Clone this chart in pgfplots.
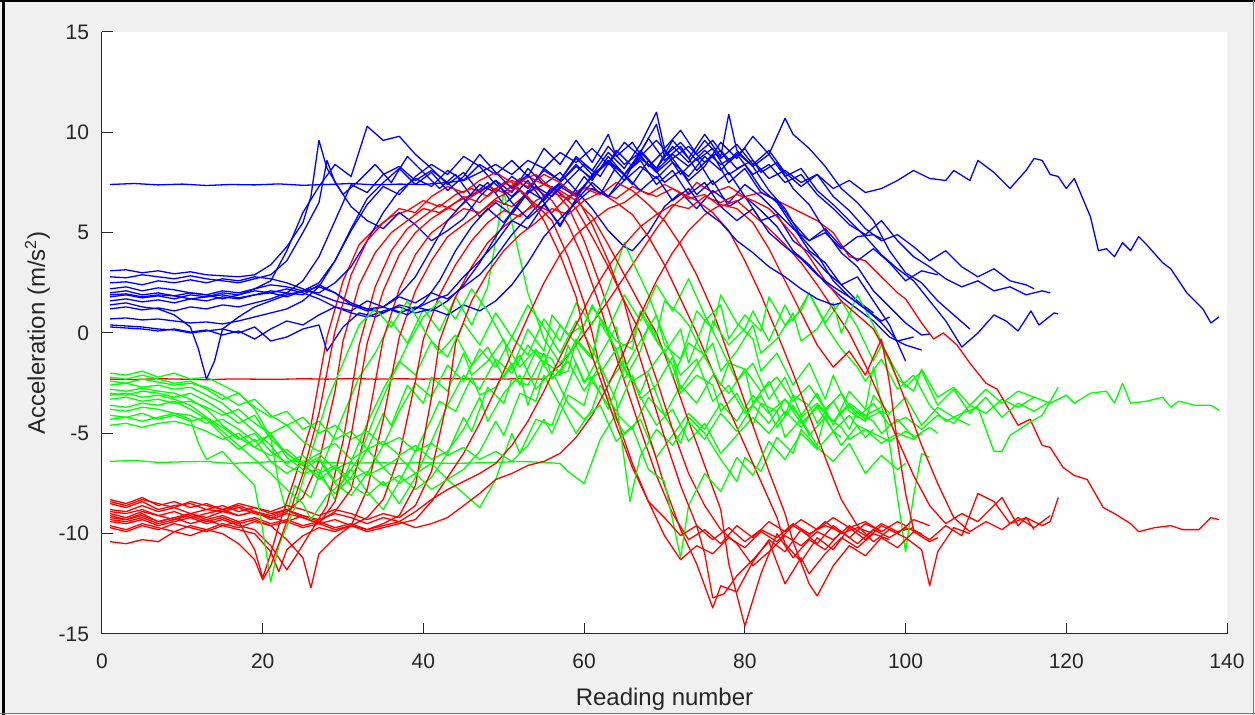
\documentclass[border=0pt]{standalone}
\usepackage{pgfplots}
\pgfplotsset{compat=1.18}
\usepackage{fontspec}
\setmainfont{Liberation Sans}
\definecolor{tickgray}{RGB}{38,38,38}
\definecolor{figbg}{RGB}{240,240,240}
\definecolor{edgegray}{RGB}{120,120,120}
\definecolor{accx}{RGB}{0,0,255}
\definecolor{accy}{RGB}{0,255,0}
\definecolor{accz}{RGB}{255,0,0}
\pgfplotsset{
  ax/.style={accx, line width=0.65pt, line join=round, mark=none},
  ay/.style={accy, line width=0.65pt, line join=round, mark=none},
  az/.style={accz, line width=0.65pt, line join=round, mark=none},
}
\begin{document}
\begin{tikzpicture}[x=1pt,y=1pt]
% figure window (0.5pt per screen pixel)
\fill[figbg] (-51,-40.5) rectangle (576.5,317);
\fill[black] (-49.75,-40.5) rectangle (-48.25,317);
\fill[black] (-51,315.75) rectangle (576.5,317);
\fill[edgegray] (575.5,-40.5) rectangle (576,317);
\fill[edgegray] (-51,-40) rectangle (576.5,-39.5);
\path[use as bounding box] (-51,-40.5) rectangle (576.5,317);
\begin{axis}[
  at={(0,0)}, anchor=south west,
  scale only axis, width=562.5pt, height=301pt,
  xmin=0, xmax=140, ymin=-15, ymax=15,
  xtick={0,20,...,140}, ytick={-15,-10,...,15},
  axis lines*=left,
  axis line style={tickgray, line width=0.5pt},
  tick align=inside, major tick length=5.5pt,
  tick style={tickgray, line width=0.5pt},
  axis background/.style={fill=white},
  /pgf/number format/assume math mode=true,
  ticklabel style={font=\fontsize{10.5}{12}\selectfont, text=tickgray},
  xticklabel style={anchor=base, yshift=-17.5pt},
  yticklabel style={anchor=east, inner sep=0pt, xshift=-6.25pt},
  xlabel={Reading number},
  ylabel={Acceleration (m/s\textsuperscript{2})},
  label style={font=\fontsize{12}{14}\selectfont, text=tickgray},
  xlabel style={at={(axis description cs:0.5,0)}, anchor=base, yshift=-36pt},
  ylabel style={at={(axis description cs:-0.0507,0.5)}, anchor=base, rotate=0},
]
% ---------- recording 1 (139 readings, tilted start) ----------
\addplot[ax] coordinates {(1,7.4)(4,7.45)(7,7.38)(10,7.42)(13,7.35)(16,7.4)(19,7.38)(22,7.43)(25,7.36)(28,7.4)(31,7.45)(34,7.38)(37,7.42)(40,7.4)(43,7.5)(45,7.6)(47,8.0)(49,8.4)(51,7.9)(53,8.6)(55,8.2)(57,9.0)(59,8.5)(61,9.2)(63,8.4)(65,9.5)(67,8.8)(69,9.6)(71,8.7)(73,9.3)(75,8.5)(77,9.1)(79,8.2)(81,8.6)(83,7.7)(85,8.1)(87,7.5)(89,7.9)(91,7.2)(93,7.6)(95,7.0)(97,7.2)(99,7.6)(101,8.1)(103,7.7)(105,7.6)(106,8.1)(108,7.6)(109,8.6)(111,8.0)(113,7.2)(115,8.1)(116,8.7)(117,8.6)(118,7.9)(119,7.8)(120,7.2)(121,7.7)(123,5.8)(124,4.1)(125,4.2)(126,3.8)(127,4.5)(128,4.1)(129,4.8)(130,4.4)(132,3.5)(133,3.2)(135,2.0)(137,1.2)(138,0.5)(139,0.8)};
\addplot[ay] coordinates {(1,-6.4)(4,-6.35)(7,-6.45)(10,-6.42)(13,-6.4)(16,-6.5)(19,-6.45)(22,-6.4)(25,-6.38)(28,-6.45)(31,-6.5)(34,-6.45)(37,-6.5)(40,-6.45)(43,-6.5)(46,-6.48)(49,-6.45)(52,-6.4)(55,-6.45)(57,-6.5)(58,-6.9)(60,-7.5)(62,-5.3)(64,-4.0)(66,-4.8)(68,-3.2)(70,-4.1)(72,-2.6)(74,-3.5)(76,-2.1)(78,-3.0)(80,-1.8)(82,-2.9)(84,-2.2)(86,-3.4)(88,-2.6)(90,-3.8)(92,-3.0)(94,-4.2)(96,-3.5)(98,-4.6)(100,-4.2)(102,-4.8)(104,-4.1)(106,-4.5)(108,-3.6)(110,-4.0)(112,-3.3)(114,-3.7)(116,-3.2)(118,-3.5)(120,-3.1)(121,-3.5)(123,-3.0)(125,-2.9)(126,-3.5)(127,-2.5)(128,-3.5)(130,-3.4)(132,-3.2)(133,-3.7)(134,-3.4)(136,-3.6)(138,-3.6)(139,-3.85)};
\addplot[az] coordinates {(1,-2.3)(4,-2.32)(7,-2.28)(10,-2.3)(13,-2.33)(16,-2.29)(19,-2.3)(22,-2.31)(25,-2.28)(28,-2.3)(31,-2.27)(34,-2.3)(37,-2.28)(40,-2.3)(43,-2.27)(46,-2.29)(49,-2.3)(52,-2.28)(55,-2.3)(57,-1.6)(59,-0.6)(61,0.5)(63,1.6)(65,2.8)(67,4.0)(69,5.2)(71,6.3)(73,7.0)(74,7.5)(76,7.0)(78,7.3)(80,6.8)(82,7.0)(84,6.6)(86,6.2)(88,5.8)(89,5.6)(91,5.0)(93,3.8)(95,3.6)(97,2.8)(99,2.0)(100,1.7)(102,0.5)(103.5,-0.3)(104.7,0.0)(106.4,-0.6)(108,-1.5)(110,-2.5)(111.4,-2.8)(113,-3.9)(114,-4.6)(115.5,-4.3)(117,-5.6)(118,-5.7)(119.6,-6.7)(121,-7.1)(122.6,-7.3)(124.6,-8.7)(126,-9.0)(128,-9.5)(129,-9.9)(131,-9.7)(133,-9.6)(134.5,-9.8)(136.5,-9.8)(138,-9.2)(139,-9.3)};
% ---------- recording 2 ----------
\addplot[ax] coordinates {(1,3.1)(3,3.15)(5,3.0)(7,3.1)(9,2.95)(11,3.05)(13,2.9)(15,2.85)(17,2.8)(19,2.9)(21,3.4)(23,4.3)(25,5.5)(26,6.8)(27,9.6)(28,8.2)(30,6.9)(32,7.6)(34,8.4)(36,7.5)(38,8.8)(40,8.0)(42,7.2)(44,7.9)(46,6.8)(48,7.5)(50,6.4)(52,7.1)(54,6.2)(56,7.3)(58,6.6)(60,7.8)(62,6.9)(64,8.3)(66,7.4)(68,8.6)(70,7.5)(72,8.1)(74,6.9)(76,7.6)(78,6.3)(80,6.8)(82,5.6)(84,5.9)(86,4.6)(88,4.0)(90,3.1)(92,2.4)(94,1.6)(96,1.0)};
\addplot[ay] coordinates {(1,-2.0)(3,-2.1)(5,-1.9)(7,-2.2)(9,-2.0)(11,-2.3)(13,-2.2)(15,-2.6)(17,-3.0)(19,-3.8)(21,-5.2)(22,-7.5)(23,-9.0)(24,-7.6)(26,-8.2)(28,-6.0)(30,-4.1)(32,-2.2)(34,-1.0)(36,0.6)(38,-0.5)(40,1.2)(42,0.1)(44,1.8)(46,0.4)(48,2.3)(50,7.0)(51,5.5)(53,2.0)(55,-0.3)(57,-1.5)(59,-0.6)(61,-2.4)(63,-3.6)(65,-5.0)(67,-4.3)(69,-6.2)(71,-5.1)(73,-4.0)(75,-4.8)(77,-3.5)(79,-4.4)(81,-3.1)(83,-4.0)(85,-3.3)(87,-4.5)(89,-3.7)(91,-4.9)(93,-4.1)(95,-5.2)(96,-4.8)};
\addplot[az] coordinates {(1,-9.1)(3,-9.3)(5,-9.0)(7,-9.4)(9,-9.2)(11,-9.0)(13,-9.3)(15,-9.1)(17,-9.4)(19,-10.8)(20,-12.2)(21,-11.0)(22,-9.6)(24,-7.2)(26,-4.6)(28,-0.2)(30,2.6)(32,4.4)(34,5.2)(36,5.8)(38,6.1)(40,6.6)(42,6.3)(44,6.9)(46,7.2)(48,6.8)(50,7.5)(52,7.1)(54,6.4)(56,5.6)(58,3.8)(60,1.5)(61,0.0)(62,-1.8)(64,-4.2)(66,-6.5)(68,-8.4)(70,-10.1)(72,-11.3)(74,-10.6)(76,-11.0)(78,-10.2)(80,-10.7)(82,-9.9)(84,-10.4)(86,-9.6)(88,-10.1)(90,-9.4)(92,-10.0)(94,-9.7)(96,-10.0)};
% ---------- recording 3 ----------
\addplot[ax] coordinates {(1,2.8)(3,2.75)(5,2.9)(7,2.8)(9,2.7)(11,2.85)(13,2.7)(15,2.6)(17,2.5)(19,2.7)(21,2.9)(23,3.6)(25,5.0)(27,6.5)(28,8.6)(29,7.5)(31,6.3)(33,5.6)(35,5.2)(37,6.0)(39,5.4)(41,4.6)(43,5.1)(45,5.7)(47,6.8)(49,7.6)(51,7.0)(53,8.2)(55,7.4)(57,8.0)(59,7.1)(61,6.2)(63,5.1)(65,4.3)(66,4.1)(68,5.0)(70,6.3)(72,7.0)(74,6.2)(76,7.1)(78,6.5)(80,7.4)(82,6.8)(84,6.0)(86,5.2)(88,4.6)(90,5.0)(92,4.2)(94,4.8)(96,4.9)(97,4.7)};
\addplot[ay] coordinates {(1,-2.6)(3,-2.5)(5,-2.7)(7,-2.6)(9,-2.8)(11,-2.7)(13,-3.1)(15,-3.5)(17,-4.2)(19,-4.9)(21,-5.6)(23,-6.6)(25,-7.0)(27,-6.8)(29,-8.3)(31,-6.4)(33,-4.5)(35,-2.8)(37,-1.4)(39,-2.1)(41,-0.4)(43,-1.2)(45,0.5)(47,-0.6)(49,1.0)(51,-0.2)(53,1.4)(55,0.3)(57,-1.0)(59,0.6)(61,-0.8)(63,-2.5)(65,-1.4)(67,-3.2)(69,-4.6)(71,-3.8)(73,-5.4)(75,-4.5)(77,-6.0)(79,-5.1)(81,-4.2)(83,-5.0)(85,-3.9)(87,-4.7)(89,-3.6)(91,-4.4)(93,-3.5)(95,-4.1)(97,-3.7)};
\addplot[az] coordinates {(1,-8.8)(3,-8.9)(5,-8.6)(7,-8.9)(9,-8.7)(11,-9.0)(13,-8.8)(15,-8.9)(17,-8.7)(19,-9.0)(21,-9.2)(23,-8.9)(25,-8.2)(27,-6.4)(29,-2.9)(30,-0.4)(32,2.4)(34,4.0)(36,5.0)(38,5.6)(40,6.2)(42,6.0)(44,6.5)(46,6.9)(48,7.3)(50,7.0)(52,7.7)(54,7.2)(56,6.6)(58,5.4)(60,3.6)(62,1.3)(63,0.0)(65,-2.4)(67,-4.8)(69,-7.1)(71,-9.0)(73,-10.3)(75,-9.8)(77,-10.5)(79,-9.6)(81,-10.2)(83,-9.4)(85,-9.9)(87,-9.3)(89,-9.8)(91,-9.2)(93,-9.7)(95,-9.4)(97,-9.9)};
% ---------- recording 4 ----------
\addplot[ax] coordinates {(1,1.6)(3,1.7)(5,1.55)(7,1.65)(9,1.5)(11,1.7)(13,1.6)(15,1.8)(17,1.7)(19,1.9)(21,2.1)(23,2.0)(25,2.6)(27,3.8)(29,5.6)(31,7.4)(33,7.0)(35,7.9)(37,8.3)(39,7.6)(41,8.1)(43,7.5)(45,6.7)(47,5.8)(49,6.5)(51,5.9)(53,7.0)(55,8.2)(57,7.6)(59,8.8)(61,8.1)(63,9.3)(65,8.4)(67,9.0)(69,10.4)(70,8.8)(72,9.5)(74,8.6)(76,9.2)(78,7.9)(80,8.4)(82,7.2)(84,6.5)(86,5.3)(88,4.1)(90,3.5)(92,2.4)(94,2.8)(96,1.6)(98,0.4)(100,-1.4)};
\addplot[ay] coordinates {(1,-3.0)(3,-3.1)(5,-2.9)(7,-3.0)(9,-3.2)(11,-3.0)(13,-3.4)(15,-3.9)(17,-4.5)(19,-4.1)(21,-5.3)(23,-6.0)(25,-6.6)(27,-7.1)(29,-8.0)(31,-7.2)(33,-5.8)(35,-4.0)(36,-4.6)(38,-2.6)(40,-3.5)(41,-2.2)(43,-2.9)(45,-1.0)(46,-2.1)(48,-1.4)(50,-0.3)(51,-1.8)(53,0.2)(55,-0.9)(56,0.9)(58,-0.1)(60,0.4)(61,1.4)(63,0.0)(65,-1.8)(67,-3.0)(68,-2.0)(70,-4.1)(72,-5.5)(73,-4.2)(75,-5.0)(77,-6.3)(79,-7.4)(80,-6.2)(82,-6.9)(84,-5.2)(86,-6.0)(87,-4.8)(89,-5.7)(91,-6.4)(93,-5.5)(95,-7.0)(97,-6.1)(99,-6.8)(100,-6.5)};
\addplot[az] coordinates {(1,-9.4)(3,-9.5)(5,-9.3)(7,-9.6)(9,-9.4)(11,-9.2)(13,-9.5)(15,-9.3)(17,-9.6)(19,-9.8)(21,-10.6)(23,-11.8)(24,-11.2)(26,-9.9)(28,-8.6)(30,-5.4)(32,-0.6)(34,2.3)(36,4.1)(38,5.2)(40,5.8)(42,6.4)(44,6.1)(46,6.8)(48,7.3)(50,7.0)(52,7.6)(54,7.9)(56,7.2)(58,6.3)(60,4.6)(62,2.4)(64,0.0)(66,-2.5)(68,-5.0)(70,-7.6)(72,-9.8)(74,-11.5)(76,-13.7)(77,-12.6)(79,-12.9)(81,-11.4)(83,-10.3)(85,-10.9)(87,-9.8)(89,-10.5)(91,-9.6)(93,-10.2)(95,-9.5)(97,-9.9)(99,-9.4)(100,-9.6)};
% ---------- recording 5 ----------
\addplot[ax] coordinates {(1,0.7)(3,0.75)(5,0.65)(7,0.7)(9,0.6)(11,0.5)(13,0.55)(15,0.45)(17,0.6)(19,0.8)(21,1.0)(23,1.2)(25,1.6)(27,2.3)(29,3.6)(31,5.1)(33,6.4)(35,7.3)(37,6.9)(39,7.8)(41,8.4)(43,7.9)(45,8.8)(47,8.3)(49,7.4)(51,6.8)(53,7.6)(55,6.5)(57,5.3)(59,6.7)(61,7.9)(63,8.5)(65,7.6)(67,9.1)(69,8.2)(71,9.6)(73,8.7)(75,9.9)(77,8.8)(78,10.9)(79,9.1)(81,8.3)(83,7.1)(85,6.2)(87,4.8)(89,3.9)(91,2.6)(93,1.8)(95,1.2)(97,0.5)(99,-0.4)(101,-0.2)};
\addplot[ay] coordinates {(1,-2.8)(3,-2.9)(5,-2.75)(7,-2.9)(9,-3.0)(11,-3.3)(13,-3.8)(15,-4.6)(17,-5.2)(19,-5.7)(21,-5.0)(23,-6.2)(25,-6.8)(27,-6.3)(29,-7.5)(31,-8.1)(33,-7.0)(35,-5.6)(37,-3.9)(39,-2.5)(41,-3.2)(43,-1.6)(45,-2.4)(47,-0.8)(49,-1.7)(51,-0.2)(53,-1.1)(55,0.7)(57,-0.4)(59,1.5)(61,0.4)(63,2.2)(65,4.5)(66,3.6)(68,1.9)(70,-0.2)(72,-2.1)(74,-1.3)(76,-3.4)(78,-2.6)(80,-4.0)(82,-3.1)(84,-4.7)(86,-3.6)(88,-5.1)(90,-4.2)(92,-5.6)(94,-4.6)(96,-5.0)(98,-5.4)(100,-4.9)(101,-5.1)};
\addplot[az] coordinates {(1,-8.5)(3,-8.7)(5,-8.4)(7,-8.8)(9,-8.6)(11,-8.5)(13,-8.8)(15,-8.6)(17,-8.9)(19,-8.7)(21,-9.0)(23,-8.8)(25,-9.1)(27,-9.4)(29,-8.9)(31,-7.8)(33,-4.6)(35,-0.3)(37,2.2)(39,3.9)(41,5.0)(43,5.6)(45,6.2)(47,6.0)(49,6.7)(51,7.1)(53,7.8)(55,7.4)(57,7.0)(59,6.2)(61,4.8)(63,3.3)(65,1.6)(67,0.0)(69,-2.3)(71,-4.8)(73,-7.0)(75,-8.6)(77,-9.8)(79,-10.5)(81,-11.6)(83,-10.9)(85,-10.1)(87,-10.6)(89,-9.9)(91,-10.3)(93,-9.6)(95,-10.1)(97,-9.5)(99,-9.9)(101,-9.7)};
% ---------- recording 6 ----------
\addplot[ax] coordinates {(1,2.2)(3,2.3)(5,2.1)(7,2.25)(9,2.15)(11,2.0)(13,1.9)(15,2.1)(17,2.0)(19,2.2)(21,2.4)(23,2.3)(25,2.1)(27,2.0)(29,2.5)(31,3.3)(33,4.6)(35,6.0)(37,7.1)(39,7.7)(41,7.3)(43,8.1)(45,7.6)(47,8.4)(49,7.9)(51,8.6)(53,7.8)(55,9.2)(57,8.4)(59,9.6)(61,8.5)(63,9.9)(64,8.8)(66,9.5)(68,8.3)(70,9.1)(72,7.9)(74,8.7)(76,7.4)(78,8.0)(80,6.8)(82,6.1)(84,5.3)(86,4.1)(88,3.4)(90,2.5)(92,1.8)(94,1.2)(96,0.6)(98,-0.2)(100,-0.6)(102,-0.85)};
\addplot[ay] coordinates {(1,-4.3)(3,-4.2)(5,-4.4)(7,-4.2)(9,-4.0)(11,-4.1)(13,-4.5)(15,-4.3)(17,-4.8)(19,-5.4)(21,-5.1)(23,-6.0)(25,-6.6)(27,-6.2)(29,-7.4)(31,-6.8)(33,-7.9)(35,-8.8)(37,-7.4)(39,-5.9)(41,-4.3)(42,-3.4)(44,-3.9)(46,-2.2)(47,-3.1)(49,-2.7)(51,-1.5)(52,-2.6)(54,-0.9)(56,-1.3)(57,-2.1)(59,-0.3)(61,-1.2)(62,0.7)(64,-0.4)(66,-0.8)(67,1.0)(69,-0.4)(71,-1.6)(72,-3.0)(74,-2.1)(76,-2.6)(77,-3.9)(79,-3.0)(81,-4.6)(82,-3.5)(84,-3.9)(85,-5.2)(87,-4.3)(89,-5.6)(90,-4.1)(92,-4.7)(93,-5.3)(95,-4.8)(97,-5.5)(99,-5.0)(101,-5.3)(102,-5.0)};
\addplot[az] coordinates {(1,-9.6)(3,-9.8)(5,-9.5)(7,-9.7)(9,-9.9)(11,-9.6)(13,-9.8)(15,-9.5)(17,-9.7)(19,-9.4)(21,-9.6)(23,-10.3)(25,-11.2)(26,-12.7)(27,-11.0)(29,-10.2)(31,-9.6)(33,-7.8)(35,-4.3)(37,-0.2)(39,2.1)(41,3.6)(43,4.8)(45,5.4)(47,6.0)(49,6.6)(51,6.3)(53,7.0)(55,7.4)(57,7.1)(59,6.6)(61,5.8)(63,4.4)(65,2.9)(67,1.4)(69,0.0)(71,-2.1)(73,-4.4)(75,-6.6)(77,-8.8)(78,-11.5)(80,-14.6)(82,-12.0)(84,-10.0)(86,-11.2)(88,-10.3)(90,-10.8)(92,-9.9)(94,-10.5)(96,-9.8)(98,-10.2)(100,-9.7)(102,-10.0)};
% ---------- recording 7 ----------
\addplot[ax] coordinates {(1,1.9)(3,1.95)(5,1.8)(7,1.9)(9,1.85)(11,1.7)(13,1.8)(15,1.9)(17,1.75)(19,1.9)(21,2.0)(23,1.8)(25,2.1)(27,2.3)(29,2.0)(31,1.4)(33,1.2)(35,1.3)(37,1.9)(39,2.8)(41,4.2)(43,5.6)(45,6.5)(47,7.4)(49,7.0)(51,7.8)(53,7.2)(55,8.1)(57,7.6)(59,8.7)(61,7.9)(63,9.0)(65,8.2)(67,9.4)(69,11.0)(70,9.2)(72,10.1)(74,8.9)(76,9.6)(78,8.5)(80,9.2)(82,8.0)(84,8.5)(86,7.2)(88,6.4)(90,5.1)(92,4.0)(94,3.3)(96,2.1)(98,1.3)(100,0.5)(102,-0.1)(103,-0.05)};
\addplot[ay] coordinates {(1,-3.6)(3,-3.7)(5,-3.5)(7,-3.6)(9,-3.4)(11,-3.8)(13,-4.3)(15,-5.1)(17,-5.8)(19,-5.3)(21,-6.4)(23,-7.0)(25,-6.5)(27,-7.3)(29,-6.7)(31,-7.6)(33,-8.1)(35,-7.4)(37,-8.5)(39,-7.2)(41,-5.4)(43,-3.6)(45,-2.1)(47,-2.8)(49,-1.3)(51,-2.0)(53,-0.6)(55,-1.5)(57,0.4)(59,-0.5)(61,1.3)(63,0.2)(65,1.9)(67,0.6)(69,2.4)(71,1.1)(73,2.7)(75,0.9)(77,-0.7)(79,-2.4)(81,-1.5)(83,-3.3)(85,-2.2)(87,-4.1)(89,-3.0)(91,-4.6)(93,-2.9)(95,-3.8)(96,-1.7)(98,-5.5)(100,-10.9)(101,-8.1)(102,-6.0)(103,-6.2)};
\addplot[az] coordinates {(1,-9.0)(3,-9.2)(5,-8.9)(7,-9.1)(9,-9.3)(11,-9.0)(13,-9.2)(15,-8.9)(17,-9.1)(19,-8.9)(21,-9.3)(23,-9.0)(25,-9.2)(27,-9.5)(29,-9.3)(31,-9.6)(33,-9.2)(35,-8.3)(37,-6.1)(39,-2.4)(40,-0.3)(42,1.9)(44,3.4)(46,4.6)(48,5.5)(50,6.1)(52,5.8)(54,6.6)(56,7.0)(58,6.7)(60,7.3)(62,7.0)(64,6.5)(66,5.9)(68,4.8)(70,3.4)(72,1.7)(74,0.0)(76,-1.9)(78,-3.8)(80,-5.6)(82,-7.4)(84,-9.2)(85,-10.5)(87,-11.4)(89,-10.2)(91,-10.8)(93,-9.7)(95,-10.3)(97,-9.6)(99,-10.0)(101,-9.3)(103,-9.6)};
% ---------- recording 8 ----------
\addplot[ax] coordinates {(1,0.4)(3,0.35)(5,0.3)(7,0.2)(9,0.15)(11,0.0)(13,0.1)(15,0.2)(17,0.0)(19,0.3)(21,-0.4)(23,-0.2)(25,0.2)(27,0.4)(28,-0.9)(30,0.3)(32,1.0)(34,0.8)(36,1.2)(38,0.9)(40,1.5)(42,2.6)(44,4.1)(46,5.3)(48,6.2)(50,5.5)(52,6.6)(54,7.3)(56,6.8)(58,7.6)(60,8.4)(62,7.8)(64,9.1)(66,8.3)(68,9.7)(70,8.6)(72,9.3)(74,8.1)(76,8.9)(78,7.5)(80,8.2)(82,7.0)(84,6.6)(86,5.5)(88,4.6)(90,5.2)(92,4.3)(94,3.6)(96,4.2)(98,3.5)(100,2.6)(102,3.1)(104,2.9)};
\addplot[ay] coordinates {(1,-4.1)(3,-4.2)(5,-4.0)(7,-4.3)(9,-4.1)(11,-4.4)(13,-4.2)(15,-4.7)(17,-5.3)(19,-5.0)(21,-5.9)(23,-6.5)(25,-6.1)(27,-7.0)(29,-6.6)(31,-7.3)(33,-6.9)(35,-7.6)(37,-7.1)(39,-7.8)(41,-7.2)(43,-6.0)(45,-4.2)(46,-4.9)(48,-2.7)(50,-3.5)(51,-2.3)(53,-2.6)(55,-1.0)(56,-2.2)(58,-1.9)(59,-0.4)(61,-1.3)(62,0.5)(64,-0.8)(66,-0.4)(67,1.1)(69,-0.1)(70,1.6)(72,0.9)(73,0.4)(75,-1.2)(77,-2.6)(78,-1.5)(80,-1.8)(81,-3.5)(83,-2.4)(85,-4.1)(86,-3.1)(88,-3.6)(89,-4.5)(91,-3.4)(93,-4.8)(94,-3.9)(96,-4.4)(97,-5.0)(99,-4.3)(101,-5.2)(103,-4.7)(104,-5.0)};
\addplot[az] coordinates {(1,-9.7)(3,-9.9)(5,-9.6)(7,-9.8)(9,-9.5)(11,-9.7)(13,-9.9)(15,-9.6)(17,-9.8)(19,-10.0)(21,-10.9)(22,-11.9)(23,-10.8)(25,-10.1)(27,-9.7)(29,-9.9)(31,-9.6)(33,-9.8)(35,-9.5)(37,-9.1)(39,-7.6)(41,-3.2)(42,-0.4)(44,1.8)(46,3.3)(48,4.5)(50,5.3)(52,5.9)(54,6.4)(56,6.0)(58,6.8)(60,7.2)(62,6.9)(64,7.5)(66,7.1)(68,6.4)(70,5.6)(72,4.4)(74,2.9)(76,1.1)(77,0.0)(79,-2.3)(81,-4.6)(83,-6.9)(85,-9.0)(86,-10.4)(88,-12.5)(89,-13.1)(91,-11.6)(93,-10.6)(95,-11.1)(97,-10.2)(99,-10.7)(101,-9.9)(103,-10.4)(104,-10.2)};
% ---------- recording 9 ----------
\addplot[ax] coordinates {(1,1.2)(3,1.3)(5,1.15)(7,1.25)(9,1.1)(11,1.3)(13,1.2)(15,1.4)(17,1.3)(19,1.5)(21,1.7)(23,2.0)(25,1.9)(27,2.4)(29,2.0)(31,1.5)(33,1.2)(35,1.0)(37,1.4)(39,1.2)(41,1.6)(43,1.9)(45,2.8)(47,3.6)(49,4.5)(51,5.6)(53,5.2)(55,6.4)(57,7.3)(59,6.8)(61,7.8)(63,8.6)(65,7.9)(67,8.8)(69,8.0)(71,8.7)(73,7.6)(75,8.3)(77,9.5)(79,8.7)(81,9.8)(83,8.9)(85,10.7)(86,9.9)(88,9.2)(90,8.3)(92,7.2)(94,6.5)(96,5.6)(98,4.1)(100,3.0)(102,2.5)(104,1.6)(106,0.9)(108,0.2)};
\addplot[ay] coordinates {(1,-2.2)(3,-2.3)(5,-2.1)(7,-2.3)(9,-2.5)(11,-2.4)(13,-2.8)(15,-3.3)(17,-3.0)(19,-3.7)(21,-4.2)(23,-3.9)(25,-4.8)(27,-4.4)(29,-5.3)(31,-4.9)(33,-5.8)(35,-5.4)(37,-6.1)(39,-5.6)(41,-6.3)(43,-5.9)(45,-4.8)(47,-3.2)(48,-4.4)(50,-3.0)(52,-2.1)(53,-3.6)(55,-1.4)(57,-2.0)(58,-0.6)(60,-2.5)(62,-1.1)(64,0.3)(65,-1.8)(67,-0.4)(69,0.9)(70,-0.6)(72,-1.3)(74,1.1)(76,0.2)(77,1.9)(79,0.5)(81,-0.3)(82,-1.9)(84,-1.0)(86,-2.6)(88,-1.5)(90,-3.3)(91,-2.1)(93,-3.9)(95,-4.4)(96,-3.1)(98,-4.0)(100,-3.2)(102,-4.6)(104,-3.7)(106,-4.2)(108,-4.6)};
\addplot[az] coordinates {(1,-8.4)(3,-8.6)(5,-8.3)(7,-8.5)(9,-8.7)(11,-8.4)(13,-8.6)(15,-8.8)(17,-8.5)(19,-8.7)(21,-8.9)(23,-8.6)(25,-8.8)(27,-9.1)(29,-8.8)(31,-9.0)(33,-9.3)(35,-9.0)(37,-9.2)(39,-8.6)(41,-6.9)(43,-3.3)(44,-0.5)(46,1.6)(48,3.0)(50,4.1)(52,4.9)(54,5.5)(56,6.2)(58,5.9)(60,6.6)(62,7.0)(64,6.7)(66,7.3)(68,6.9)(70,7.4)(72,7.0)(74,6.6)(76,6.0)(78,5.1)(80,3.6)(82,1.9)(84,0.0)(86,-2.0)(88,-4.1)(90,-6.2)(92,-8.3)(94,-9.6)(96,-10.4)(98,-9.8)(100,-10.2)(102,-10.8)(103,-12.6)(104,-10.9)(106,-9.7)(108,-10.0)};
% ---------- recording 10 ----------
\addplot[ax] coordinates {(1,2.5)(3,2.55)(5,2.4)(7,2.6)(9,2.5)(11,2.65)(13,2.5)(15,2.7)(17,2.6)(19,2.8)(21,2.7)(23,2.5)(25,2.2)(27,1.9)(29,1.6)(31,1.4)(33,1.1)(35,1.3)(37,1.0)(39,1.3)(41,1.1)(43,1.6)(45,2.4)(47,3.5)(49,4.8)(51,6.0)(53,7.1)(55,6.6)(57,7.5)(59,8.3)(61,7.7)(63,8.6)(65,7.9)(67,9.0)(69,8.2)(71,9.3)(73,8.5)(75,9.6)(77,8.7)(79,9.4)(81,8.4)(83,9.1)(85,8.0)(87,7.3)(89,7.9)(91,6.8)(93,6.1)(95,5.2)(97,4.6)(99,4.9)(101,4.3)(103,3.6)(105,4.1)(107,3.3)(109,2.8)(111,3.2)(113,2.6)(115,2.4)(116,2.2)};
\addplot[ay] coordinates {(1,-3.3)(3,-3.2)(5,-3.4)(7,-3.3)(9,-3.5)(11,-3.4)(13,-3.7)(15,-4.1)(17,-3.8)(19,-4.5)(21,-5.0)(23,-4.6)(25,-5.4)(27,-5.9)(29,-5.5)(31,-6.3)(33,-5.8)(35,-6.7)(37,-6.2)(39,-7.0)(41,-6.5)(43,-7.3)(45,-6.8)(47,-5.9)(49,-4.4)(50,-5.1)(52,-3.0)(54,-3.4)(55,-2.1)(57,-3.6)(59,-1.5)(60,-2.4)(62,-2.0)(64,-0.8)(65,-2.3)(67,-0.9)(68,0.4)(70,-1.0)(72,0.2)(73,-1.5)(75,0.6)(77,1.4)(78,-0.3)(80,0.9)(82,0.1)(83,1.8)(85,0.4)(87,1.1)(88,2.0)(90,0.5)(92,1.6)(94,0.3)(96,-1.4)(97,-0.6)(99,-2.3)(101,-2.9)(102,-1.8)(104,-3.2)(106,-2.7)(108,-3.6)(110,-2.8)(112,-3.5)(114,-2.9)(116,-3.2)};
\addplot[az] coordinates {(1,-9.3)(3,-9.4)(5,-9.2)(7,-9.5)(9,-9.3)(11,-9.1)(13,-9.4)(15,-9.2)(17,-9.5)(19,-9.3)(21,-9.6)(23,-9.4)(25,-9.7)(27,-9.5)(29,-9.8)(31,-9.6)(33,-9.9)(35,-9.7)(37,-9.5)(39,-9.3)(41,-8.4)(43,-7.2)(45,-6.0)(47,-4.5)(49,-2.8)(51,-1.0)(53,0.8)(55,2.5)(57,3.9)(59,4.9)(61,5.6)(63,6.2)(65,6.5)(67,7.1)(69,6.8)(71,7.2)(73,6.7)(75,6.9)(77,6.3)(79,6.6)(81,5.9)(83,5.2)(85,4.4)(87,3.5)(89,2.4)(91,1.2)(93,0.0)(95,-1.6)(97,-3.4)(99,-5.3)(101,-7.1)(103,-8.6)(105,-9.5)(107,-9.0)(109,-9.4)(111,-8.6)(112,-8.2)(114,-9.6)(115,-9.2)(116,-9.8)};
% ---------- recording 11 ----------
\addplot[ax] coordinates {(1,0.3)(3,0.25)(5,0.2)(7,0.1)(9,0.2)(11,0.05)(13,0.15)(15,-0.1)(17,0.1)(19,-0.3)(21,0.2)(23,0.6)(25,0.4)(27,0.9)(29,1.3)(31,1.1)(33,1.6)(35,1.3)(37,1.8)(39,1.5)(41,2.0)(43,1.7)(45,2.3)(47,2.9)(49,3.8)(51,4.9)(53,5.8)(55,6.7)(57,7.4)(59,6.9)(61,7.8)(63,8.5)(65,7.9)(67,8.7)(69,8.1)(71,8.9)(73,8.3)(75,9.1)(77,8.4)(79,8.9)(81,7.9)(83,8.4)(85,7.5)(87,7.9)(89,6.9)(91,6.2)(93,5.4)(95,4.9)(97,5.6)(99,4.6)(101,3.8)(103,3.3)(105,2.7)(107,2.3)(109,2.6)(111,2.1)(113,2.3)(115,1.9)(117,2.1)(118,2.0)};
\addplot[ay] coordinates {(1,-4.6)(3,-4.5)(5,-4.7)(7,-4.5)(9,-4.4)(11,-4.6)(13,-4.9)(15,-5.3)(17,-5.0)(19,-5.7)(21,-6.1)(23,-5.8)(25,-6.5)(27,-6.0)(29,-6.8)(31,-6.4)(33,-7.1)(35,-6.7)(37,-7.5)(39,-7.0)(41,-7.8)(43,-7.3)(45,-8.0)(47,-8.7)(49,-7.3)(51,-5.0)(52,-6.0)(54,-4.3)(56,-4.6)(57,-3.5)(59,-5.0)(61,-3.8)(62,-2.6)(64,-3.9)(66,-2.1)(67,-3.3)(69,-2.6)(71,-1.2)(72,-2.8)(74,-1.6)(76,-0.5)(77,-1.9)(79,-0.9)(81,0.4)(82,-1.0)(84,-0.3)(86,1.0)(87,-0.4)(89,0.2)(91,1.5)(92,0.0)(94,1.9)(96,0.4)(98,-1.3)(100,-2.7)(102,-1.9)(104,-3.6)(106,-2.8)(108,-4.0)(110,-3.2)(112,-4.2)(114,-3.5)(116,-3.9)(118,-3.4)};
\addplot[az] coordinates {(1,-8.9)(3,-9.0)(5,-8.8)(7,-9.1)(9,-8.9)(11,-9.2)(13,-9.0)(15,-8.8)(17,-9.1)(19,-8.9)(21,-9.2)(23,-9.4)(25,-9.1)(27,-9.3)(29,-9.0)(31,-9.2)(33,-9.5)(35,-9.2)(37,-9.4)(39,-8.9)(41,-8.3)(43,-7.8)(45,-7.4)(47,-7.0)(49,-6.5)(51,-5.6)(53,-4.4)(55,-2.9)(57,-1.2)(59,0.4)(61,2.0)(63,3.3)(65,4.4)(67,5.3)(69,5.9)(71,6.4)(73,6.2)(75,6.8)(77,6.5)(79,6.9)(81,6.6)(83,6.2)(84,5.8)(86,4.9)(88,3.8)(90,2.6)(92,1.6)(94,0.9)(96,0.2)(98,-1.3)(100,-3.4)(102,-5.6)(104,-7.5)(106,-9.2)(108,-9.9)(110,-9.4)(112,-9.8)(114,-9.2)(116,-9.7)(118,-9.1)};
% ---------- recording 12 ----------
\addplot[ax] coordinates {(1,1.8)(3,1.9)(5,1.75)(7,1.85)(9,1.7)(11,1.9)(13,1.8)(15,2.0)(17,1.9)(19,2.1)(21,2.0)(23,2.2)(25,2.0)(27,1.7)(29,1.3)(31,1.0)(33,0.8)(35,1.1)(37,1.3)(39,1.0)(41,1.2)(43,0.9)(45,1.4)(47,1.1)(49,1.6)(51,2.4)(53,3.5)(55,4.8)(57,5.7)(59,6.5)(61,7.2)(63,6.8)(65,7.6)(67,8.3)(69,7.7)(71,8.5)(73,7.8)(75,8.8)(77,8.1)(79,9.0)(81,8.3)(83,8.9)(85,7.8)(87,8.2)(89,7.1)(91,6.4)(93,5.6)(95,4.8)(97,3.9)(99,3.2)(101,2.6)(103,1.6)(105,0.6)(107,-0.7)(109,0.0)(111,0.9)(112.5,0.6)(114,0.1)(115.6,1.1)(116.6,0.4)(118.5,1.0)(119,0.95)};
\addplot[ay] coordinates {(1,-2.4)(3,-2.5)(5,-2.3)(7,-2.45)(9,-2.6)(11,-2.5)(13,-2.7)(15,-3.1)(17,-3.6)(19,-3.3)(21,-4.1)(23,-4.6)(25,-4.2)(27,-5.0)(29,-4.6)(31,-5.3)(33,-4.9)(35,-5.6)(37,-5.2)(39,-5.9)(41,-5.5)(43,-6.1)(45,-5.7)(47,-6.3)(49,-5.9)(51,-6.4)(53,-5.6)(55,-4.3)(56,-5.0)(58,-3.1)(60,-3.6)(61,-2.2)(63,-3.8)(65,-1.7)(66,-2.4)(68,-1.9)(70,-0.8)(71,-2.2)(73,-0.5)(75,-1.1)(76,0.6)(78,-0.6)(80,0.2)(81,1.1)(83,-0.4)(85,1.4)(86,0.6)(88,2.0)(90,0.4)(92,-0.8)(94,-1.7)(95,-2.4)(97,-1.3)(99,-2.8)(101,-2.1)(103,-3.6)(105,-4.4)(107,-4.0)(109,-3.7)(111,-5.9)(112,-5.9)(113,-5.1)(115.7,-4.4)(117,-4.1)(119,-2.7)};
\addplot[az] coordinates {(1,-9.2)(3,-9.3)(5,-9.1)(7,-9.4)(9,-9.2)(11,-9.5)(13,-9.3)(15,-9.6)(17,-9.4)(19,-9.2)(21,-9.5)(23,-9.3)(25,-9.6)(27,-9.4)(29,-9.7)(31,-9.5)(33,-9.8)(35,-9.6)(37,-9.4)(39,-9.7)(41,-9.5)(43,-9.2)(45,-8.6)(47,-8.0)(49,-7.3)(51,-7.0)(53,-6.6)(55,-6.4)(57,-6.0)(59,-5.2)(61,-4.1)(63,-2.6)(65,-0.9)(67,0.9)(69,2.6)(71,4.0)(73,5.1)(75,5.9)(77,6.4)(79,6.2)(81,5.5)(83,4.2)(85,2.6)(87,1.0)(89,-0.6)(91,-1.7)(93,-0.9)(95,-2.1)(97,-0.3)(98,-2.5)(99,-5.5)(100,-8.0)(101,-9.8)(103,-10.3)(105,-9.6)(107,-10.1)(109,-8.0)(111,-8.4)(113,-9.5)(115,-9.2)(117,-9.6)(118,-9.4)(119,-8.2)};
% ---------- recording 13 ----------
\addplot[ax] coordinates {(1,2.0)(3,2.1)(5,1.9)(7,2.0)(9,1.85)(11,2.0)(13,1.9)(15,1.7)(17,1.9)(19,2.2)(21,2.6)(23,4.1)(25,6.0)(27,7.3)(29,8.4)(31,7.8)(33,10.3)(35,9.6)(37,9.8)(39,8.9)(41,8.2)(43,7.4)(45,8.0)(47,7.0)(49,7.6)(51,6.5)(53,5.7)(55,6.4)(57,5.4)(59,6.6)(61,7.5)(63,6.8)(65,7.9)(67,7.1)(69,7.8)(71,6.6)(73,7.2)(75,6.1)(77,5.5)(79,4.6)(81,4.0)(83,3.3)(85,2.8)(87,2.2)(89,1.7)(91,1.4)(92,1.5)};
\addplot[ay] coordinates {(1,-3.8)(3,-3.9)(5,-3.7)(7,-3.8)(9,-4.0)(11,-4.3)(12,-5.5)(13,-6.3)(15,-5.9)(17,-6.8)(19,-7.6)(20,-9.8)(21,-12.4)(22,-10.6)(24,-8.7)(26,-6.0)(28,-3.4)(30,-1.5)(32,0.4)(34,1.2)(36,0.3)(38,1.6)(40,0.2)(42,-1.0)(44,-0.1)(46,-1.6)(48,-0.7)(50,-2.2)(52,-1.1)(54,-2.8)(56,-1.9)(58,-3.5)(60,-4.3)(62,-3.6)(64,-5.4)(66,-4.7)(68,-6.8)(70,-7.4)(72,-11.2)(73,-8.6)(75,-7.0)(77,-7.9)(79,-6.2)(81,-7.1)(83,-5.4)(85,-6.3)(87,-5.0)(89,-5.8)(91,-4.9)(92,-5.2)};
\addplot[az] coordinates {(1,-10.4)(3,-10.5)(5,-10.3)(7,-10.4)(9,-9.9)(11,-10.1)(13,-9.8)(15,-10.0)(17,-10.5)(19,-11.3)(20,-12.3)(21,-11.6)(23,-9.4)(25,-7.0)(27,-4.0)(29,0.1)(31,2.9)(33,4.6)(35,5.5)(37,6.2)(39,6.0)(41,6.8)(43,7.3)(45,7.0)(47,7.6)(49,8.0)(51,7.5)(53,6.8)(55,5.6)(57,3.9)(59,1.8)(60,0.0)(62,-2.3)(64,-4.6)(66,-6.7)(68,-8.4)(70,-9.2)(72,-10.1)(74,-9.6)(76,-10.3)(78,-9.7)(80,-10.4)(82,-9.8)(84,-10.2)(86,-9.5)(88,-10.0)(90,-9.6)(92,-9.9)};
% ---------- recording 14 ----------
\addplot[ax] coordinates {(1,1.4)(3,1.5)(5,1.3)(7,1.2)(9,0.9)(11,0.3)(12,-0.8)(13,-2.3)(14,-1.4)(15,0.2)(17,0.8)(19,1.3)(21,1.6)(23,1.9)(25,2.1)(27,2.5)(29,3.6)(31,5.2)(33,6.7)(35,7.5)(37,8.2)(39,7.4)(41,8.0)(43,7.1)(45,7.8)(47,8.9)(49,8.0)(51,7.2)(53,7.9)(55,6.8)(57,7.5)(59,8.4)(61,7.6)(63,8.8)(65,7.9)(67,8.6)(69,7.4)(71,8.1)(73,6.9)(75,7.5)(77,6.3)(79,5.6)(81,6.2)(83,5.0)(85,4.3)(87,3.7)(89,2.9)(91,2.3)(93,1.8)(95,1.2)(97,0.6)(98,0.8)};
\addplot[ay] coordinates {(1,-3.1)(3,-3.0)(5,-3.2)(7,-3.1)(9,-3.3)(11,-3.6)(13,-4.2)(15,-4.9)(17,-5.6)(19,-6.3)(21,-7.0)(23,-7.8)(25,-8.5)(26,-9.3)(28,-8.1)(30,-7.4)(32,-6.2)(34,-4.1)(36,-2.3)(38,-0.6)(40,0.8)(42,1.6)(44,0.7)(46,2.2)(48,1.1)(50,-0.4)(52,-1.7)(54,-0.8)(56,-2.3)(58,-1.4)(60,-2.9)(62,-1.6)(64,-3.4)(65.7,-8.4)(67,-6.1)(69,-4.8)(71,-5.6)(73,-4.4)(75,-5.3)(77,-4.0)(79,-4.9)(81,-3.6)(83,-4.5)(85,-3.3)(87,-4.2)(89,-3.5)(91,-4.4)(93,-3.6)(95,-4.3)(97,-3.9)(98,-4.1)};
\addplot[az] coordinates {(1,-8.3)(3,-8.5)(5,-8.2)(7,-8.6)(9,-8.4)(11,-8.7)(13,-8.5)(15,-8.8)(17,-8.6)(19,-8.9)(21,-9.1)(23,-8.8)(25,-9.2)(27,-9.5)(29,-8.4)(31,-5.1)(33,-0.5)(35,2.1)(37,3.9)(39,5.0)(41,5.7)(43,6.2)(45,6.8)(47,6.5)(49,7.2)(51,7.6)(53,7.3)(55,7.9)(57,7.5)(59,6.8)(61,5.4)(63,3.6)(65,1.5)(66,0.0)(68,-2.6)(70,-5.2)(72,-7.6)(74,-9.6)(75,-11.0)(76,-13.2)(77.4,-13.0)(79,-12.1)(81,-11.3)(83,-10.4)(85,-12.5)(87,-11.2)(88,-12.0)(90,-11.0)(92,-10.2)(94,-10.7)(96,-10.0)(98,-10.3)};
\end{axis}
\end{tikzpicture}
\end{document}
